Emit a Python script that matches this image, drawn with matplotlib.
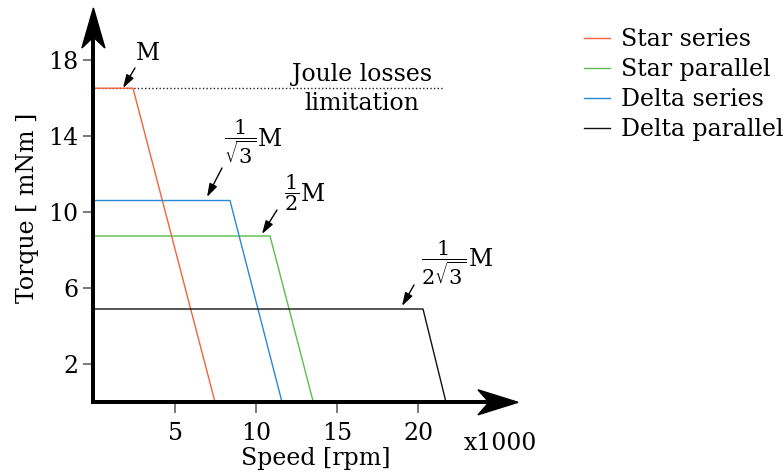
import matplotlib
matplotlib.use("Agg")
import matplotlib.pyplot as plt
import matplotlib.transforms as mtransforms
from matplotlib.patches import Polygon
from matplotlib.lines import Line2D

plt.rcParams['font.family'] = ['DejaVu Serif']
plt.rcParams['mathtext.fontset'] = 'dejavuserif'

# ---------------- data ----------------
series_names = ["Star series", "Star parallel", "Delta series", "Delta parallel"]
series_colors = ["#f2643a", "#5cbd48", "#2a88d4", "#111111"]
star_series_x = [0, 2.41, 7.47]
star_series_y = [16.53, 16.53, 0]
star_parallel_x = [0, 10.86, 13.53]
star_parallel_y = [8.75, 8.75, 0]
delta_series_x = [0, 8.39, 11.6]
delta_series_y = [10.62, 10.62, 0]
delta_parallel_x = [0, 20.29, 21.71]
delta_parallel_y = [4.91, 4.91, 0]
joule_x = [0, 21.52]
joule_y = [16.53, 16.53]
x_ticks = [5, 10, 15, 20]
y_ticks = [2, 6, 10, 14, 18]

FS = 17
W, H = 784, 475
fig = plt.figure(figsize=(W / 100, H / 100), dpi=100)

x0px, y0px = 93.9, 402.3   # origin in image pixels
xtip, ytip = 518.0, 8.0
sx, sy = 16.22, 19.0
ax = fig.add_axes([x0px / W, (H - y0px) / H, (xtip - x0px) / W, (y0px - ytip) / H])
ax.set_xlim(0, (xtip - x0px) / sx)
ax.set_ylim(0, (y0px - ytip) / sy)
for s in ax.spines.values():
    s.set_visible(False)
ax.patch.set_visible(False)

xs = [star_series_x, star_parallel_x, delta_series_x, delta_parallel_x]
ys = [star_series_y, star_parallel_y, delta_series_y, delta_parallel_y]
for xv, yv, c, n in zip(xs, ys, series_colors, series_names):
    ax.plot(xv, yv, color=c, lw=1.0, label=n, zorder=3)
ax.plot(joule_x, joule_y, color="#222222", lw=1.0, ls=(0, (1, 1.6)), zorder=2)

ax.set_xticks(x_ticks)
ax.set_yticks(y_ticks)
ax.tick_params(direction='out', length=8, width=1.1, color='#555555',
               labelsize=FS)
ax.tick_params(axis='x', pad=6)
ax.tick_params(axis='y', pad=3)

# --- axes arrows (display pixel coords) ---
ident = mtransforms.IdentityTransform()
def P(x, y):
    return (x, H - y)
lw_ax = 4.0 * 72 / 100
fig.add_artist(Line2D([x0px - 2.5, 490], [H - y0px, H - y0px], lw=lw_ax,
                      color='black', transform=ident, solid_capstyle='butt'))
fig.add_artist(Polygon([P(518, y0px), P(478, y0px - 12.5), P(489, y0px), P(478, y0px + 12.5)],
                       closed=True, color='black', transform=ident))
fig.add_artist(Line2D([x0px - 0.5, x0px - 0.5], [H - y0px - 2, H - 37], lw=lw_ax,
                      color='black', transform=ident, solid_capstyle='butt'))
fig.add_artist(Polygon([P(x0px - 0.5, 8), P(x0px - 12, 48), P(x0px - 0.5, 37), P(x0px + 11, 48)],
                       closed=True, color='black', transform=ident))

def fp(x, y):
    return (x / W, 1 - y / H)

def d(xp, yp):
    return ((xp - x0px) / sx, (y0px - yp) / sy)

arrow_kw = dict(arrowstyle='-|>,head_length=0.8,head_width=0.25', color='black',
                lw=1.0, shrinkA=0, shrinkB=0, mutation_scale=10)
# (fraction, fraction centre px, "M" centre px, arrow tail px, arrow tip px)
notes = [
    (None, None, (148, 53), (135, 68), (123, 88)),
    (r"$\dfrac{1}{\sqrt{3}}$", (240, 142), (270, 140), (222, 168), (207, 197)),
    (r"$\dfrac{1}{2}$", (292, 193), (313, 194), (277, 210), (262, 234)),
    (r"$\dfrac{1}{2\sqrt{3}}$", (444, 263), (481, 259), (414, 285), (402, 306)),
]
for frac, fc, mc, tail, tip in notes:
    if frac is not None:
        fig.text(*fp(*fc), frac, ha='center', va='center', fontsize=15)
    fig.text(*fp(*mc), "M", ha='center', va='center', fontsize=FS)
    ax.annotate('', xy=d(*tip), xytext=d(*tail), arrowprops=arrow_kw)

fig.text(*fp(362, 75), "Joule losses", ha='center', va='center', fontsize=FS)
fig.text(*fp(362, 103), "limitation", ha='center', va='center', fontsize=FS)

fig.text(*fp(500, 443), "x1000", ha='center', va='center', fontsize=FS)
fig.text(*fp(316, 458), "Speed [rpm]", ha='center', va='center', fontsize=FS)
fig.text(*fp(28, 208), "Torque [ mNm ]", ha='center', va='center', fontsize=FS, rotation=90)

fig.legend(loc='upper left', bbox_to_anchor=fp(584, 28), frameon=False, fontsize=FS,
           handlelength=1.1, handletextpad=0.45, labelspacing=0.3, borderpad=0,
           borderaxespad=0)

fig.savefig("out.png", dpi=100)
